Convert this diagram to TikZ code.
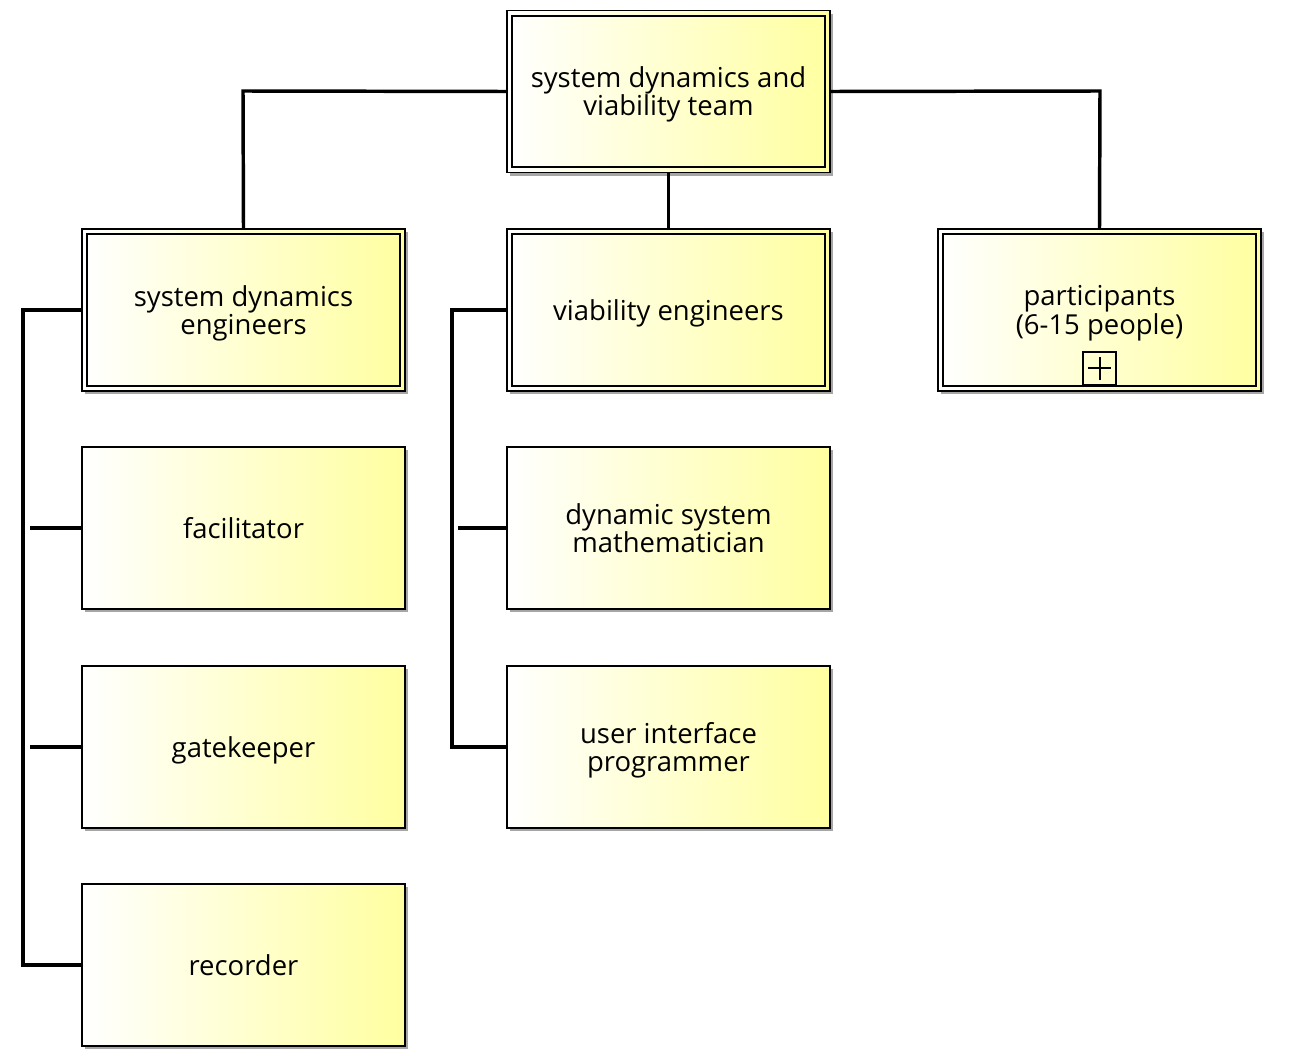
\documentclass[tikz,border=0pt]{standalone}
\usepackage{fontspec}
\setmainfont{Open Sans}
\usetikzlibrary{shadows}
\definecolor{boxyellow}{RGB}{255,255,160}
\newcommand{\lstrut}{\rule[-5pt]{0pt}{17pt}}
\tikzset{
  px/.style={x=0.75pt,y=-0.75pt},
  rolebox/.style={rectangle, draw=black, line width=1.4pt, minimum width=242.25pt, minimum height=121.5pt,
    left color=white, right color=boxyellow, inner sep=0pt,
    drop shadow={shadow xshift=2.6pt, shadow yshift=-2.6pt, fill=black!35, opacity=1}},
  boxtext/.style={align=center, inner sep=0pt, font=\fontsize{20.6}{21.2}\selectfont},
  innerframe/.style={draw=black, line width=1.6pt},
  conn/.style={draw=black, line width=2.6pt},
}
\newcommand{\rolenode}[3]{%
  \node[rolebox] (#1) at (#2) {};
  \node[boxtext] (#1-t) at ([yshift=-2.4pt]#1.center) {#3};}
\begin{document}
\begin{tikzpicture}[px]
\useasboundingbox (0,0) rectangle (1290,1056);
\rolenode{team}{668.5,91.5}{\lstrut system dynamics and\\\lstrut viability team}
\rolenode{sde}{243.5,310}{\lstrut system dynamics\\\lstrut engineers}
\rolenode{ve}{668.5,310}{\lstrut viability engineers}
\rolenode{part}{1099.5,310}{\lstrut participants\\\lstrut (6-15 people)}
\rolenode{fac}{243.5,528}{\lstrut facilitator}
\rolenode{gate}{243.5,747}{\lstrut gatekeeper}
\rolenode{rec}{243.5,965}{\lstrut recorder}
\rolenode{dsm}{668.5,528}{\lstrut dynamic system\\\lstrut mathematician}
\rolenode{uip}{668.5,747}{\lstrut user interface\\\lstrut programmer}
% inner frames of double boxes
\foreach \n in {team,sde,ve,part}{
  \draw[innerframe] ([xshift=4.6pt,yshift=-4.6pt]\n.north west) rectangle ([xshift=-4.6pt,yshift=4.6pt]\n.south east);
}
% expand marker
\node[draw=black, line width=1.5pt, minimum size=24.5pt, inner sep=0pt, anchor=south] (plus) at ([yshift=4.6pt]part.south) {};
\draw[line width=1.5pt] ([xshift=-8.5pt]plus.center) -- ([xshift=8.5pt]plus.center)
  ([yshift=-8.5pt]plus.center) -- ([yshift=8.5pt]plus.center);
% connectors
\coordinate (l1) at (243,91);
\coordinate (r1) at (1100,91);
\draw[conn] (team.west) -- (l1) -- (sde.north);
\draw[conn] (team.east) -- (r1) -- (part.north);
\draw[conn] (team.south) -- (ve.north);
\coordinate (lb1) at (23,310);
\coordinate (lb2) at (23,965);
\draw[conn] (sde.west) -- (lb1) -- (lb2) -- (rec.west);
\coordinate (ls1) at (30,528);
\coordinate (ls2) at (30,747);
\draw[conn] (ls1) -- (fac.west);
\draw[conn] (ls2) -- (gate.west);
\coordinate (mb1) at (452,310);
\coordinate (mb2) at (452,747);
\draw[conn] (ve.west) -- (mb1) -- (mb2) -- (uip.west);
\coordinate (ms1) at (458,528);
\draw[conn] (ms1) -- (dsm.west);
\end{tikzpicture}
\end{document}
